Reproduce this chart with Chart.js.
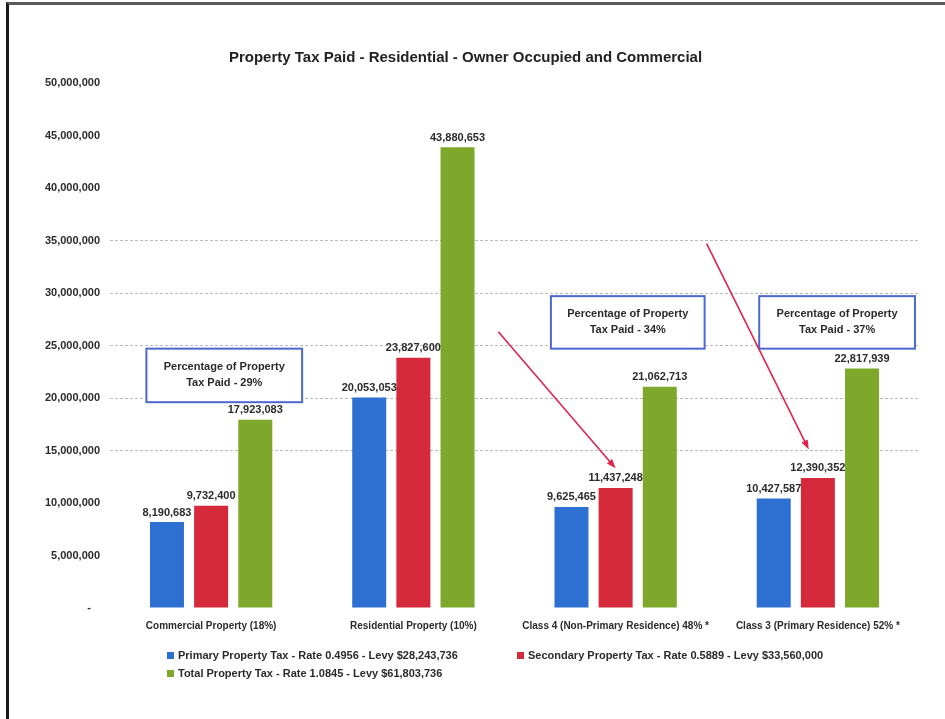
<!DOCTYPE html>
<html>
<head>
<meta charset="utf-8">
<script src="https://cdn.jsdelivr.net/npm/chart.js@4/dist/chart.umd.min.js"></script>
<style>
    html, body { margin: 0; padding: 0; background: #fff; }
    #page {
        position: relative;
        width: 945px;
        height: 719px;
        overflow: hidden;
        font-family: 'Liberation Sans', Arial, sans-serif;
    }
    #page::before {
        content: '';
        position: absolute;
        left: 6px; top: 2px; right: 0; bottom: 0;
        border-left: 3px solid #1a1a1a;
        border-top: 3px solid #5a5a5a;
        pointer-events: none;
    }
    #chart { position: absolute; left: 0; top: 0; }
    #legend {
        position: absolute;
        left: 167px;
        top: 648px;
        width: 720px;
        display: grid;
        grid-template-columns: 350px 370px;
        row-gap: 4px;
        font-weight: bold;
        font-size: 11px;
        color: #2b2b2b;
    }
    #legend .item { display: flex; align-items: center; white-space: nowrap; line-height: 14px; }
    #legend .swatch { width: 7px; height: 7px; margin-right: 4px; }
</style>
</head>
<body>
<div id="page">
    <canvas id="chart" width="945" height="719"></canvas>
    <div id="legend"></div>
</div>
<script>
const categories = [
    'Commercial Property (18%)',
    'Residential Property (10%)',
    'Class 4 (Non-Primary Residence) 48% *',
    'Class 3 (Primary Residence) 52% *',
];
const primaryTax = [8190683, 20053053, 9625465, 10427587];
const secondaryTax = [9732400, 23827600, 11437248, 12390352];
const totalTax = [17923083, 43880653, 21062713, 22817939];

const seriesNames = ['Primary Property Tax', 'Secondary Property Tax', 'Total Property Tax'];
const seriesRates = ['0.4956', '0.5889', '1.0845'];
const seriesLevies = [28243736, 33560000, 61803736];
const seriesColors = ['#2e6fd2', '#d42a3c', '#7ea82b'];

const yMax = 50000000;
const yStep = 5000000;

// call-out boxes (category units / values) and the arrows pointing at the class bars
const noteBoxes = [
    { cat: 0, x0: -0.32, x1: 0.45, top: 24700000, bottom: 19600000 },
    { cat: 2, x0: 1.68, x1: 2.44, top: 29700000, bottom: 24700000 },
    { cat: 3, x0: 2.71, x1: 3.48, top: 29700000, bottom: 24700000 },
];
const noteArrows = [
    { from: [1.42, 26300000], to: [2.0, 13300000] },
    { from: [2.45, 34700000], to: [2.955, 15100000] },
];

const FONT = "'Liberation Sans', Arial, sans-serif";
const fmt = (v) => Number(v).toLocaleString('en-US');

const valueLabels = {
    id: 'valueLabels',
    afterDatasetsDraw(chart) {
        const { ctx } = chart;
        ctx.save();
        ctx.font = `bold 11px ${FONT}`;
        ctx.fillStyle = '#2b2b2b';
        ctx.textAlign = 'center';
        ctx.textBaseline = 'bottom';
        chart.data.datasets.forEach((ds, di) => {
            chart.getDatasetMeta(di).data.forEach((bar, i) => {
                ctx.fillText(fmt(ds.data[i]), bar.x, bar.y - 4);
            });
        });
        ctx.restore();
    },
};

const callouts = {
    id: 'callouts',
    afterDraw(chart) {
        const { ctx, scales: { x, y } } = chart;
        const levyTotal = seriesLevies[2];
        ctx.save();

        noteBoxes.forEach((box) => {
            const left = x.getPixelForValue(box.x0);
            const right = x.getPixelForValue(box.x1);
            const top = y.getPixelForValue(box.top);
            const bottom = y.getPixelForValue(box.bottom);
            ctx.fillStyle = '#fff';
            ctx.fillRect(left, top, right - left, bottom - top);
            ctx.strokeStyle = '#4a68d0';
            ctx.lineWidth = 2;
            ctx.strokeRect(left, top, right - left, bottom - top);

            const pct = Math.round(totalTax[box.cat] / levyTotal * 100);
            const cx = (left + right) / 2;
            const cy = (top + bottom) / 2;
            ctx.fillStyle = '#2b2b2b';
            ctx.font = `bold 11px ${FONT}`;
            ctx.textAlign = 'center';
            ctx.textBaseline = 'middle';
            ctx.fillText('Percentage of Property', cx, cy - 8);
            ctx.fillText(`Tax Paid - ${pct}%`, cx, cy + 8);
        });

        ctx.strokeStyle = '#e2234d';
        ctx.fillStyle = '#e2234d';
        ctx.lineWidth = 1.6;
        noteArrows.forEach((a) => {
            const x1 = x.getPixelForValue(a.from[0]);
            const y1 = y.getPixelForValue(a.from[1]);
            const x2 = x.getPixelForValue(a.to[0]);
            const y2 = y.getPixelForValue(a.to[1]);
            const ang = Math.atan2(y2 - y1, x2 - x1);
            const head = 10;
            ctx.beginPath();
            ctx.moveTo(x1, y1);
            ctx.lineTo(x2 - Math.cos(ang) * head * 0.8, y2 - Math.sin(ang) * head * 0.8);
            ctx.stroke();
            ctx.beginPath();
            ctx.moveTo(x2, y2);
            ctx.lineTo(x2 - head * Math.cos(ang - 0.35), y2 - head * Math.sin(ang - 0.35));
            ctx.lineTo(x2 - head * Math.cos(ang + 0.35), y2 - head * Math.sin(ang + 0.35));
            ctx.closePath();
            ctx.fill();
        });
        ctx.restore();
    },
};

const datasets = [primaryTax, secondaryTax, totalTax].map((data, i) => ({
    label: seriesNames[i],
    data,
    backgroundColor: seriesColors[i],
    borderWidth: 0,
    categoryPercentage: 0.655,
    barPercentage: 0.77,
}));

new Chart(document.getElementById('chart'), {
    type: 'bar',
    data: { labels: categories, datasets },
    plugins: [valueLabels, callouts],
    options: {
        responsive: false,
        animation: false,
        devicePixelRatio: 1,
        layout: { padding: { left: 12, right: 26, top: 0, bottom: 83 } },
        plugins: {
            legend: { display: false },
            tooltip: { enabled: false },
            title: {
                display: true,
                text: 'Property Tax Paid - Residential - Owner Occupied and Commercial',
                color: '#222',
                font: { family: FONT, size: 15, weight: 'bold' },
                padding: { top: 49, bottom: 16 },
            },
        },
        scales: {
            x: {
                grid: { display: false },
                border: { display: false },
                ticks: {
                    color: '#2b2b2b',
                    font: { family: FONT, size: 10, weight: 'bold' },
                    padding: 4,
                    maxRotation: 0,
                    autoSkip: false,
                },
            },
            y: {
                min: 0,
                max: yMax,
                // grid lines take their dash from the border settings in v4
                border: { display: false, dash: [3, 2] },
                grid: {
                    drawTicks: false,
                    // only the middle band of gridlines shows
                    color: (c) => (c.tick && c.tick.value >= 15000000 && c.tick.value <= 35000000 ? 'rgba(120,120,120,0.5)' : 'rgba(0,0,0,0)'),
                },
                ticks: {
                    stepSize: yStep,
                    padding: 10,
                    color: '#2b2b2b',
                    font: { family: FONT, size: 11, weight: 'bold' },
                    callback: (v) => (v === 0 ? '-   ' : fmt(v)),
                },
                afterFit(scale) {
                    scale.width = 98;
                },
            },
        },
    },
});

const legend = document.getElementById('legend');
seriesNames.forEach((name, i) => {
    const item = document.createElement('div');
    item.className = 'item';
    const sw = document.createElement('span');
    sw.className = 'swatch';
    sw.style.background = seriesColors[i];
    item.appendChild(sw);
    item.appendChild(document.createTextNode(`${name} - Rate ${seriesRates[i]} - Levy $${fmt(seriesLevies[i])}`));
    legend.appendChild(item);
});
</script>
</body>
</html>
